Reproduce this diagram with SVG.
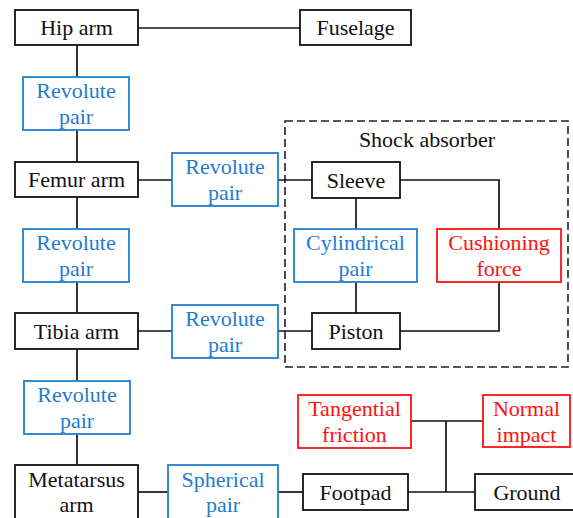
<svg xmlns="http://www.w3.org/2000/svg" width="573" height="518" viewBox="0 0 573 518" font-family="Liberation Serif, Times New Roman, serif" font-size="22">
<style>
text{text-anchor:middle}
.k rect{fill:#fff;stroke:#111;stroke-width:1.8}
.k text{fill:#111}
.b rect{fill:#fff;stroke:#1f7fd0;stroke-width:1.8}
.b text{fill:#1f7ccf}
.r rect{fill:#fff;stroke:#ff1010;stroke-width:1.8}
.r text{fill:#ff1010}
#connectors path{fill:none;stroke:#111;stroke-width:1.7}
</style>
<rect width="573" height="518" fill="#fff"/>
<g id="shock-absorber">
<rect x="285" y="121" width="283" height="246" fill="none" stroke="#222" stroke-width="1.6" stroke-dasharray="8 4"/>
<text x="427" y="147" fill="#111">Shock absorber</text>
</g>
<g id="connectors">
<path d="M138 28H300"/>
<path d="M77 45V77"/>
<path d="M77 130V162"/>
<path d="M138 180H172"/>
<path d="M278 180H312"/>
<path d="M77 197V229"/>
<path d="M77 282V313"/>
<path d="M138 331H172"/>
<path d="M278 331H312"/>
<path d="M356 198V229"/>
<path d="M356 282V313"/>
<path d="M400 180H499V229"/>
<path d="M499 282V331H400"/>
<path d="M77 349V381"/>
<path d="M77 434V465"/>
<path d="M138 492H168"/>
<path d="M278 492H303"/>
<path d="M408 492H475"/>
<path d="M411 421H483"/>
<path d="M446 421V492"/>
</g>
<g id="hip-arm" class="k"><rect x="15" y="10" width="123" height="35"/><text x="76.5" y="35">Hip arm</text></g>
<g id="fuselage" class="k"><rect x="300" y="10" width="111" height="35"/><text x="355.5" y="35">Fuselage</text></g>
<g id="revolute-1" class="b"><rect x="23" y="77" width="106" height="53"/><text x="76" y="98">Revolute</text><text x="76" y="124">pair</text></g>
<g id="femur-arm" class="k"><rect x="15" y="162" width="123" height="35"/><text x="76.5" y="187">Femur arm</text></g>
<g id="revolute-2" class="b"><rect x="172" y="153" width="106" height="53"/><text x="225" y="174">Revolute</text><text x="225" y="200">pair</text></g>
<g id="revolute-3" class="b"><rect x="23" y="229" width="106" height="53"/><text x="76" y="250">Revolute</text><text x="76" y="276">pair</text></g>
<g id="tibia-arm" class="k"><rect x="15" y="313" width="123" height="36"/><text x="76.5" y="339">Tibia arm</text></g>
<g id="revolute-4" class="b"><rect x="172" y="305" width="106" height="53"/><text x="225" y="326">Revolute</text><text x="225" y="352">pair</text></g>
<g id="revolute-5" class="b"><rect x="24" y="381" width="106" height="53"/><text x="77" y="402">Revolute</text><text x="77" y="428">pair</text></g>
<g id="metatarsus-arm" class="k"><rect x="15" y="465" width="123" height="60"/><text x="76.5" y="487">Metatarsus</text><text x="76.5" y="512">arm</text></g>
<g id="spherical-pair" class="b"><rect x="168" y="465" width="110" height="60"/><text x="223" y="487">Spherical</text><text x="223" y="512">pair</text></g>
<g id="sleeve" class="k"><rect x="312" y="162" width="88" height="36"/><text x="356" y="188">Sleeve</text></g>
<g id="cylindrical-pair" class="b"><rect x="294" y="229" width="123" height="53"/><text x="355.5" y="250">Cylindrical</text><text x="355.5" y="276">pair</text></g>
<g id="cushioning-force" class="r"><rect x="437" y="229" width="124" height="53"/><text x="499" y="250">Cushioning</text><text x="499" y="276">force</text></g>
<g id="piston" class="k"><rect x="312" y="313" width="88" height="36"/><text x="356" y="339">Piston</text></g>
<g id="tangential-friction" class="r"><rect x="298" y="395" width="113" height="53"/><text x="354.5" y="416">Tangential</text><text x="354.5" y="442">friction</text></g>
<g id="normal-impact" class="r"><rect x="483" y="395" width="87" height="52"/><text x="526.5" y="416">Normal</text><text x="526.5" y="442">impact</text></g>
<g id="footpad" class="k"><rect x="303" y="474" width="105" height="36"/><text x="355.5" y="500">Footpad</text></g>
<g id="ground" class="k"><rect x="475" y="474" width="105" height="36"/><text x="527" y="500">Ground</text></g>
</svg>
